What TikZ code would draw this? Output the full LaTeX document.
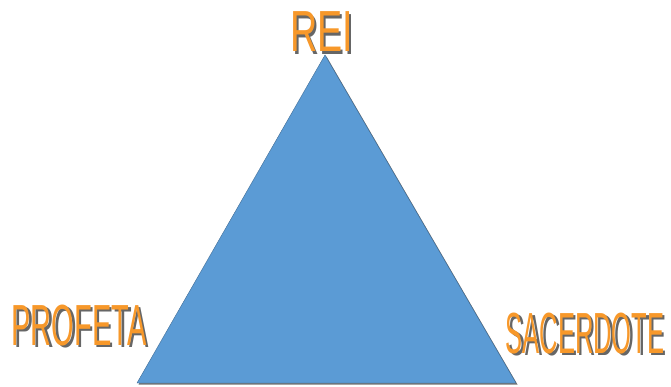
\documentclass[tikz,border=0pt]{standalone}
\usepackage{fontspec}
\setmainfont{Liberation Sans}
\usetikzlibrary{calc}
\definecolor{triblue}{HTML}{5B9BD5}
\definecolor{lblorange}{HTML}{F7982A}
\tikzset{lbl/.style={anchor=base,inner sep=0pt,text=lblorange,font=\fontsize{58}{60}\selectfont},
lblshadow/.style={lbl,text=black!60}}
\begin{document}
\begin{tikzpicture}[x=1pt,y=-1pt]
\useasboundingbox (0,0) rectangle (671,387);
\coordinate (top) at (325,55);
\coordinate (left) at (137,383);
\coordinate (right) at (516,383);
\fill[black!55] ($(top)+(1.5,1.5)$)--($(left)+(1.5,1.5)$)--($(right)+(1.5,1.5)$)--cycle;
\filldraw[fill=triblue,draw=triblue!70!black,line width=0.4pt] (top)--(left)--(right)--cycle;
\node[lblshadow,xscale=0.65] (reishadow) at (324,54.5) {REI};
\node[lbl,xscale=0.65] (rei) at (321.5,52) {REI};
\node[lblshadow,xscale=0.5] (profetashadow) at (81.5,347.5) {PROFETA};
\node[lbl,xscale=0.5] (profeta) at (79,345) {PROFETA};
\node[lblshadow,xscale=0.44] (sacerdoteshadow) at (587.5,355.5) {SACERDOTE};
\node[lbl,xscale=0.44] (sacerdote) at (585,353) {SACERDOTE};
\end{tikzpicture}
\end{document}
